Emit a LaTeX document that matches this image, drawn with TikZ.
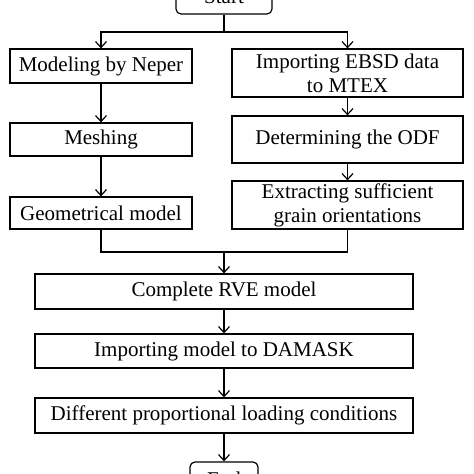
\documentclass[tikz,border=0pt]{standalone}
\usepackage{fontspec}
\setmainfont{Liberation Serif}
\usetikzlibrary{arrows.meta}

\tikzset{
  stepbox/.style={draw, line width=1.2pt, inner sep=0pt, align=center, font=\fontsize{21}{24}\selectfont},
  termbox/.style={stepbox, rounded corners=5pt, minimum width=96pt, minimum height=34pt},
  flow/.style={line width=1.2pt, -{Straight Barb[length=6pt,width=11pt,line width=1.2pt]}},
  link/.style={line width=1.2pt}
}

\begin{document}
\begin{tikzpicture}[x=1pt, y=-1pt]
\useasboundingbox (0,0) rectangle (474,474);
\node[termbox] (start) at (224,-3) {Start};
\node[stepbox, minimum width=182pt, minimum height=34pt] (neper) at (101,66) {Modeling by Neper};
\node[stepbox, minimum width=231pt, minimum height=48pt] (ebsd) at (347.5,73) {Importing EBSD data\\to MTEX};
\node[stepbox, minimum width=182pt, minimum height=33pt] (mesh) at (101,139.5) {Meshing};
\node[stepbox, minimum width=231pt, minimum height=47pt] (odf) at (347.5,139.5) {Determining the ODF};
\node[stepbox, minimum width=182pt, minimum height=32pt] (geom) at (101,213) {Geometrical model};
\node[stepbox, minimum width=231pt, minimum height=48pt] (extract) at (347.5,205) {Extracting sufficient\\grain orientations};
\node[stepbox, minimum width=378pt, minimum height=35pt] (rve) at (224,291.5) {Complete RVE model};
\node[stepbox, minimum width=378pt, minimum height=34pt] (damask) at (224,351) {Importing model to DAMASK};
\node[stepbox, minimum width=378pt, minimum height=35pt] (load) at (224,415.5) {Different proportional loading conditions};
\node[termbox, minimum width=68pt] (end) at (224,479) {End};
\coordinate (split) at (224,32);
\coordinate (join) at (224,252);
% branch out
\draw[link] (start) -- (split);
\draw[flow] (split) -| (neper);
\draw[flow] (split) -| (ebsd);
\draw[flow] (neper) -- (mesh);
\draw[flow] (mesh) -- (geom);
\draw[flow] (ebsd) -- (odf);
\draw[flow] (odf) -- (extract);
% merge
\draw[link] (geom) |- (join);
\draw[link] (extract) |- (join);
\draw[flow] (join) -- (rve);
\draw[flow] (rve) -- (damask);
\draw[flow] (damask) -- (load);
\draw[flow] (load) -- (end);
\end{tikzpicture}
\end{document}
